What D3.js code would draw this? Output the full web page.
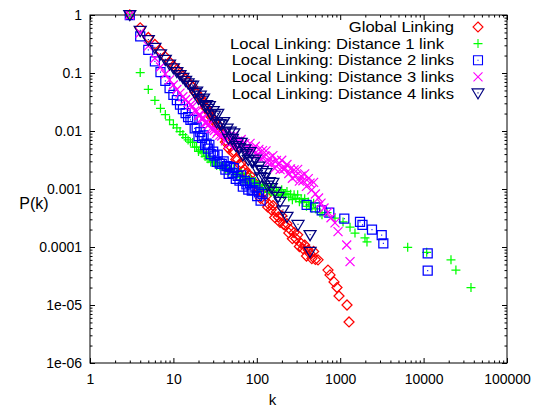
<!DOCTYPE html>
<html>
<head>
<meta charset="utf-8">
<script src="https://cdn.jsdelivr.net/npm/d3@7"></script>
<style>
  body { margin: 0; background: #fff; }
  svg { display: block; font-family: "Liberation Sans", Arial, sans-serif; }
</style>
</head>
<body>
<div id="chart"></div>
<script>
// values: [k, P(k)]
const globalLinking = [
  [3, 1], [4, 0.60], [5, 0.41], [6, 0.31], [7, 0.24], [8, 0.19], [9, 0.155], [10, 0.132],
  [11, 0.115], [12, 0.100], [13, 0.089], [14, 0.079], [15, 0.070], [16, 0.062], [17, 0.058],
  [18, 0.047], [19, 0.045], [20, 0.038], [21, 0.038], [22, 0.0325], [23, 0.0316], [24, 0.0257],
  [25, 0.0247], [26, 0.0216], [27, 0.0215], [28, 0.0178], [30, 0.0164], [31, 0.0143], [33, 0.0114],
  [34, 0.0130], [36, 0.00975], [38, 0.00887], [40, 0.00857], [42, 0.00643], [44, 0.00652],
  [46, 0.00499], [48, 0.00547], [51, 0.00430], [53, 0.00453], [56, 0.00324], [59, 0.00324],
  [62, 0.00268], [65, 0.00278], [68, 0.00201], [72, 0.00215], [75, 0.00189], [79, 0.00156],
  [83, 0.00172], [87, 0.00132], [91, 0.00126], [96, 0.00125], [101, 9.04e-4], [106, 9.98e-4],
  [111, 6.87e-4], [117, 8.39e-4], [123, 6.43e-4], [129, 7.52e-4], [135, 4.90e-4], [142, 5.32e-4],
  [149, 4.38e-4], [156, 5.19e-4], [164, 3.23e-4], [172, 4.03e-4], [181, 3.29e-4], [190, 2.65e-4],
  [199, 3.45e-4], [209, 2.46e-4], [219, 2.37e-4], [230, 2.52e-4], [242, 1.75e-4], [254, 1.98e-4],
  [267, 1.39e-4], [280, 1.77e-4], [294, 1.40e-4], [309, 1.62e-4], [324, 1.02e-4], [340, 1.15e-4],
  [357, 9.35e-5], [375, 1.08e-4], [394, 6.98e-5], [414, 8.91e-5], [435, 7.66e-5], [457, 6.31e-5],
  [480, 8.38e-5], [504, 6.10e-5], [542, 6.0e-5], [714, 4.0e-5], [755, 3.3e-5], [843, 2.5e-5],
  [915, 2.0e-5], [968, 1.43e-5], [1207, 1.0e-5], [1276, 5.1e-6]
];

const dist1 = [
  [3, 1], [4, 0.102], [5, 0.052], [6, 0.0336], [7, 0.0246], [8, 0.0192], [9, 0.0155], [10, 0.0129],
  [11, 0.0113], [12, 0.0098], [13, 0.0087], [14, 0.0077], [15, 0.0070], [16, 6.46e-3], [17, 6.35e-3],
  [18, 5.26e-3], [19, 5.26e-3], [20, 4.44e-3], [21, 4.73e-3], [22, 4.19e-3], [23, 4.38e-3],
  [24, 3.62e-3], [25, 3.69e-3], [26, 3.31e-3], [27, 3.53e-3], [28, 2.92e-3], [30, 3.04e-3],
  [31, 2.84e-3], [33, 2.55e-3], [34, 2.86e-3], [36, 2.48e-3], [38, 2.44e-3], [40, 2.54e-3],
  [42, 2.20e-3], [44, 2.29e-3], [46, 1.99e-3], [48, 2.18e-3], [51, 1.94e-3], [53, 2.22e-3],
  [56, 1.66e-3], [59, 1.82e-3], [62, 1.61e-3], [65, 1.86e-3], [68, 1.38e-3], [72, 1.62e-3],
  [75, 1.46e-3], [79, 1.27e-3], [83, 1.55e-3], [87, 1.24e-3], [91, 1.25e-3], [96, 1.35e-3],
  [101, 1.07e-3], [106, 1.20e-3], [111, 9.66e-4], [117, 1.17e-3], [123, 1.01e-3], [129, 1.15e-3],
  [135, 8.77e-4], [142, 9.79e-4], [149, 8.85e-4], [156, 1.05e-3], [164, 7.83e-4], [172, 9.44e-4],
  [181, 8.71e-4], [190, 7.80e-4], [199, 9.72e-4], [209, 8.02e-4], [219, 8.26e-4], [230, 9.06e-4],
  [242, 7.26e-4], [254, 8.13e-4], [267, 6.53e-4], [280, 7.94e-4], [294, 6.92e-4], [309, 7.94e-4],
  [324, 6.05e-4], [340, 6.67e-4], [357, 5.93e-4], [375, 6.81e-4], [394, 5.04e-4], [414, 5.96e-4],
  [435, 5.35e-4], [457, 4.67e-4], [480, 5.68e-4], [504, 4.55e-4], [573, 3.9e-4], [605, 3.6e-4],
  [695, 3.9e-4], [866, 3.16e-4], [1081, 2.7e-4], [1312, 2.2e-4], [1504, 1.74e-4], [1981, 1.43e-4],
  [2095, 1.22e-4], [6445, 9.9e-5], [10890, 8.1e-5], [21300, 6.0e-5], [24400, 4.0e-5], [37000, 2.0e-5]
];

const dist2 = [
  [3, 1], [4, 0.43], [5, 0.25], [6, 0.158], [7, 0.104], [8, 0.073], [9, 0.055], [10, 0.042],
  [11, 0.034], [12, 0.0286], [13, 0.0239], [14, 0.0204], [15, 0.0174], [16, 0.0155], [17, 0.0156],
  [18, 0.0111], [19, 0.0115], [20, 8.18e-3], [21, 9.59e-3], [22, 7.64e-3], [23, 8.38e-3],
  [24, 5.68e-3], [25, 6.04e-3], [26, 4.97e-3], [27, 5.77e-3], [28, 4.0e-3], [30, 4.43e-3],
  [31, 3.78e-3], [33, 2.94e-3], [34, 3.91e-3], [36, 2.75e-3], [38, 2.70e-3], [40, 3.0e-3],
  [42, 2.15e-3], [44, 2.49e-3], [46, 1.82e-3], [48, 2.40e-3], [51, 1.90e-3], [53, 2.29e-3],
  [56, 1.49e-3], [59, 1.68e-3], [62, 1.40e-3], [65, 1.71e-3], [68, 1.10e-3], [72, 1.38e-3],
  [75, 1.20e-3], [79, 9.72e-4], [83, 1.28e-3], [87, 9.42e-4], [91, 9.57e-4], [96, 1.06e-3],
  [101, 7.50e-4], [106, 8.71e-4], [111, 6.28e-4], [117, 8.13e-4],
  [396, 5.3e-4], [499, 4.8e-4], [600, 4.3e-4], [740, 3.9e-4], [1120, 3.1e-4], [1727, 2.7e-4],
  [1850, 2.4e-4], [2405, 2.0e-4], [3145, 1.6e-4], [3290, 1.16e-4], [11200, 7.8e-5], [11200, 3.9e-5]
];

const dist3 = [
  [3, 1], [4, 0.49], [5, 0.29], [6, 0.18], [7, 0.127], [8, 0.096], [9, 0.076], [10, 0.062],
  [11, 0.052], [12, 0.045], [13, 0.039], [14, 0.035], [15, 0.031], [16, 0.0281], [17, 0.0267],
  [18, 0.0222], [19, 0.0218], [20, 0.0185], [21, 0.0188], [22, 0.0166], [23, 0.0166], [24, 0.0139],
  [25, 0.0139], [26, 0.0126], [27, 0.0130], [28, 0.0110], [30, 0.0109], [31, 0.0102], [33, 9.10e-3],
  [34, 9.72e-3], [36, 8.47e-3], [38, 8.20e-3], [40, 9.25e-3], [42, 6.76e-3], [44, 8.04e-3],
  [46, 5.97e-3], [48, 8.04e-3], [51, 6.65e-3], [53, 8.28e-3], [56, 5.62e-3], [59, 6.65e-3],
  [62, 5.73e-3], [65, 7.13e-3], [68, 4.72e-3], [72, 6.05e-3], [75, 5.30e-3], [79, 4.50e-3],
  [83, 6.12e-3], [87, 4.61e-3], [91, 4.79e-3], [96, 5.45e-3], [101, 3.90e-3], [106, 4.82e-3],
  [111, 3.33e-3], [117, 4.58e-3], [123, 3.59e-3], [129, 4.54e-3], [135, 2.83e-3], [142, 3.40e-3],
  [149, 2.84e-3], [156, 3.77e-3], [164, 2.28e-3], [172, 3.10e-3], [181, 2.64e-3], [190, 2.16e-3],
  [199, 3.13e-3], [209, 2.20e-3], [219, 2.28e-3], [230, 2.65e-3], [242, 1.85e-3], [254, 2.22e-3],
  [267, 1.53e-3], [280, 2.14e-3], [294, 1.69e-3], [309, 2.18e-3], [324, 1.37e-3], [340, 1.67e-3],
  [357, 1.39e-3], [375, 1.82e-3], [394, 1.11e-3], [414, 1.51e-3], [435, 1.26e-3], [457, 9.66e-4],
  [480, 1.30e-3], [504, 8.22e-4], [550, 7.0e-4], [589, 5.7e-4], [640, 4.7e-4], [714, 4.0e-4],
  [776, 3.2e-4], [866, 2.6e-4], [942, 1.84e-4], [1197, 1.08e-4], [1312, 5.6e-5]
];

const dist4 = [
  [3, 1], [4, 0.53], [5, 0.37], [6, 0.27], [7, 0.21], [8, 0.168], [9, 0.140], [10, 0.120],
  [11, 0.104], [12, 0.092], [13, 0.082], [14, 0.073], [15, 0.066], [16, 0.0597], [17, 0.0604],
  [18, 0.0451], [19, 0.0478], [20, 0.0356], [21, 0.0406], [22, 0.0333], [23, 0.0363], [24, 0.0262],
  [25, 0.0280], [26, 0.0240], [27, 0.0269], [28, 0.0193], [30, 0.0220], [31, 0.0185], [33, 0.0141],
  [34, 0.0197], [36, 0.0132], [38, 0.0129], [40, 0.0142], [42, 9.44e-3], [44, 0.0110], [46, 7.33e-3],
  [48, 9.79e-3], [51, 7.35e-3], [53, 9.08e-3], [56, 5.48e-3], [59, 6.31e-3], [62, 5.05e-3],
  [65, 6.27e-3], [68, 3.77e-3], [72, 4.83e-3], [75, 4.01e-3], [79, 3.16e-3], [83, 4.32e-3],
  [87, 2.95e-3], [91, 2.92e-3], [96, 3.21e-3], [101, 2.13e-3], [106, 2.43e-3], [111, 1.59e-3],
  [117, 2.05e-3], [123, 1.55e-3], [129, 1.88e-3], [135, 1.14e-3], [142, 1.31e-3], [149, 1.04e-3],
  [156, 1.28e-3], [165, 8.9e-4], [180, 7.3e-4], [190, 6.0e-4], [206, 4.3e-4], [230, 3.3e-4],
  [312, 2.4e-4], [435, 1.6e-4], [435, 8.2e-5]
];

const seriesNames = [
  'Global Linking',
  'Local Linking: Distance 1 link',
  'Local Linking: Distance 2 links',
  'Local Linking: Distance 3 links',
  'Local Linking: Distance 4 links'
];
const seriesData = [globalLinking, dist1, dist2, dist3, dist4];
const seriesColors = ['#ff0000', '#00ff00', '#0000ff', '#ff00ff', '#000080'];
const seriesShapes = ['diamond', 'plus', 'square', 'cross', 'triangle'];

const xTicks = [1, 10, 100, 1000, 10000, 100000];
const xTickLabels = ['1', '10', '100', '1000', '10000', '100000'];
const yTicks = [1e-6, 1e-5, 1e-4, 1e-3, 1e-2, 1e-1, 1];
const yTickLabels = ['1e-06', '1e-05', '0.0001', '0.001', '0.01', '0.1', '1'];

const width = 539;
const height = 412;
const margin = { top: 15, right: 32, bottom: 49, left: 90 };

const svg = d3.select('#chart').append('svg')
  .attr('width', width)
  .attr('height', height);

const xScale = d3.scaleLog().domain([1, 1e5]).range([margin.left, width - margin.right]);
const yScale = d3.scaleLog().domain([1e-6, 1]).range([height - margin.bottom, margin.top]);

// minor ticks 2..9 in every decade
const minorX = [];
for (let e = 0; e < 5; e++) for (let m = 2; m < 10; m++) minorX.push(m * 10 ** e);
const minorY = [];
for (let e = -6; e < 0; e++) for (let m = 2; m < 10; m++) minorY.push(m * 10 ** e);

function styleAxis(g) {
  g.select('.domain').remove();
  g.selectAll('.tick line').attr('stroke', '#000').attr('stroke-width', 1);
  g.selectAll('.tick text').attr('fill', '#000').style('font-size', '14px')
    .style('font-family', '"Liberation Sans", Arial, sans-serif');
}

const bottom = height - margin.bottom;
const right = width - margin.right;

// bottom axis
svg.append('g').attr('transform', `translate(0,${bottom})`)
  .call(d3.axisBottom(xScale).tickValues(xTicks)
    .tickFormat((d, i) => xTickLabels[i]).tickSize(-5).tickPadding(11))
  .call(styleAxis);
svg.append('g').attr('transform', `translate(0,${bottom})`)
  .call(d3.axisBottom(xScale).tickValues(minorX).tickFormat('').tickSize(-2.5))
  .call(styleAxis);
// top mirror
svg.append('g').attr('transform', `translate(0,${margin.top})`)
  .call(d3.axisTop(xScale).tickValues(xTicks).tickFormat('').tickSize(-5))
  .call(styleAxis);
svg.append('g').attr('transform', `translate(0,${margin.top})`)
  .call(d3.axisTop(xScale).tickValues(minorX).tickFormat('').tickSize(-2.5))
  .call(styleAxis);
// left axis
svg.append('g').attr('transform', `translate(${margin.left},0)`)
  .call(d3.axisLeft(yScale).tickValues(yTicks)
    .tickFormat((d, i) => yTickLabels[i]).tickSize(-5).tickPadding(8))
  .call(styleAxis);
svg.append('g').attr('transform', `translate(${margin.left},0)`)
  .call(d3.axisLeft(yScale).tickValues(minorY).tickFormat('').tickSize(-2.5))
  .call(styleAxis);
// right mirror
svg.append('g').attr('transform', `translate(${right},0)`)
  .call(d3.axisRight(yScale).tickValues(yTicks).tickFormat('').tickSize(-5))
  .call(styleAxis);
svg.append('g').attr('transform', `translate(${right},0)`)
  .call(d3.axisRight(yScale).tickValues(minorY).tickFormat('').tickSize(-2.5))
  .call(styleAxis);

// frame
svg.append('rect')
  .attr('x', margin.left).attr('y', margin.top)
  .attr('width', right - margin.left).attr('height', bottom - margin.top)
  .attr('fill', 'none').attr('stroke', '#000').attr('stroke-width', 1);

// axis titles
svg.append('text').attr('x', (margin.left + right) / 2 - 26).attr('y', 405)
  .attr('text-anchor', 'middle').style('font-size', '15px').text('k');
svg.append('text').attr('x', 34).attr('y', 209)
  .attr('text-anchor', 'middle').style('font-size', '16px').text('P(k)');

// point symbols
function symbolPath(shape) {
  switch (shape) {
    case 'diamond': return 'M0,-5L5,0L0,5L-5,0Z';
    case 'plus': return 'M-4.5,0H4.5M0,-4.5V4.5';
    case 'square': return 'M-4.5,-4.5H4.5V4.5H-4.5Z M-0.5,0H0.5';
    case 'cross': return 'M-4.5,-4.5L4.5,4.5M-4.5,4.5L4.5,-4.5';
    case 'triangle': return 'M-6,-4.5H6L0,5.5Z M-0.5,-0.5H0.5';
  }
}

const marks = svg.append('g').attr('class', 'marks');
seriesData.forEach((data, i) => {
  marks.append('g')
    .selectAll('path')
    .data(data)
    .join('path')
    .attr('transform', (d) => `translate(${xScale(d[0])},${yScale(d[1])})`)
    .attr('d', symbolPath(seriesShapes[i]))
    .attr('fill', 'none')
    .attr('stroke', seriesColors[i])
    .attr('stroke-width', 1.25);
});

// legend (gnuplot places the "1 link" row a little left of the others)
// rows are tight, so the font is kept small and widened to gnuplot's wide glyphs
const legendRight = [454, 444, 454, 454, 454];
const legend = svg.append('g').attr('class', 'legend');
seriesNames.forEach((name, i) => {
  const y = 27 + i * 16.6;
  const t = legend.append('text')
    .attr('x', legendRight[i]).attr('y', y).attr('dy', '0.35em')
    .attr('text-anchor', 'end').style('font-size', '14.7px').text(name);
  const natural = t.node().getComputedTextLength();
  t.attr('textLength', natural * 1.13).attr('lengthAdjust', 'spacingAndGlyphs');
  legend.append('path')
    .attr('transform', `translate(478,${y})`)
    .attr('d', symbolPath(seriesShapes[i]))
    .attr('fill', 'none').attr('stroke', seriesColors[i]).attr('stroke-width', 1.1);
});
</script>
</body>
</html>
